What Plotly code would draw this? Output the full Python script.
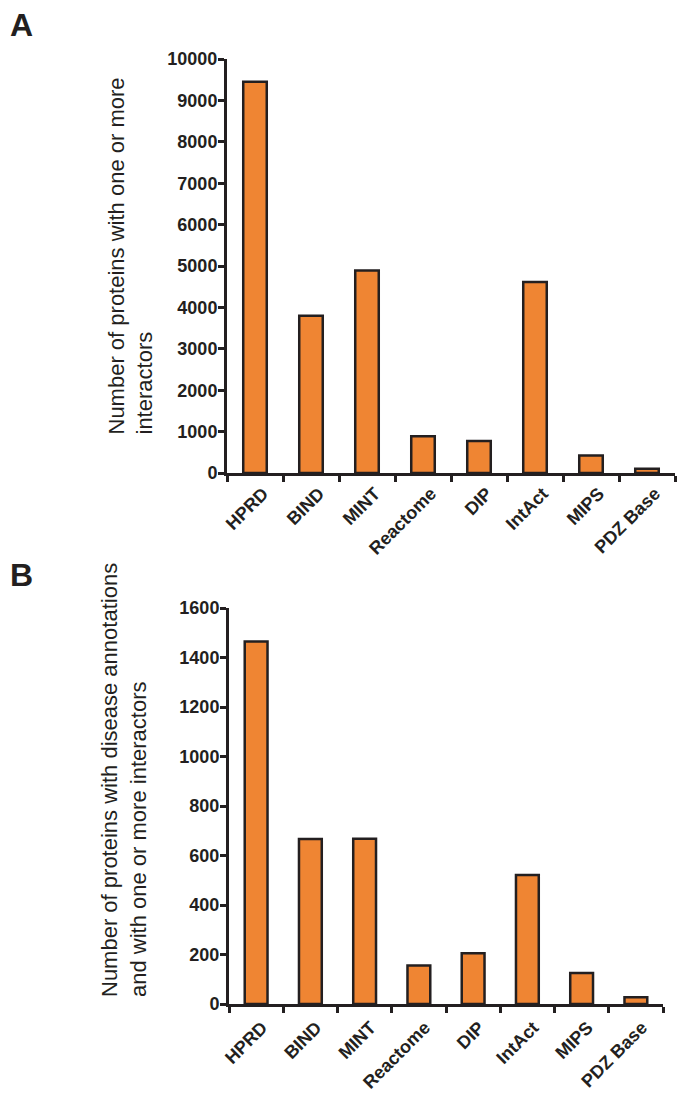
import plotly.graph_objects as go

categories = ["HPRD", "BIND", "MINT", "Reactome", "DIP", "IntAct", "MIPS", "PDZ Base"]
proteins_interactors = [9450, 3800, 4890, 890, 775, 4615, 420, 100]
proteins_disease = [1465, 667, 668, 156, 205, 521, 125, 27]

y_ticks_a = [0, 1000, 2000, 3000, 4000, 5000, 6000, 7000, 8000, 9000, 10000]
y_ticks_b = [0, 200, 400, 600, 800, 1000, 1200, 1400, 1600]

# page body has an 8px margin; figure fills the rest of the 685x1098 window
OFF = 8
W, H = 685 - OFF, 1098 - OFF
ORANGE = "#EF8533"
DARK = "#231F20"
FONT = "Liberation Sans, Arial, Helvetica, sans-serif"

fig = go.Figure()
fig.add_trace(go.Bar(x=categories, y=proteins_interactors, xaxis="x", yaxis="y",
                     marker=dict(color=ORANGE, line=dict(color=DARK, width=2.5)),
                     width=0.42, showlegend=False))
fig.add_trace(go.Bar(x=categories, y=proteins_disease, xaxis="x2", yaxis="y2",
                     marker=dict(color=ORANGE, line=dict(color=DARK, width=2.5)),
                     width=0.42, showlegend=False))

def px_x(v):
    return (v - OFF) / W

def px_y(v):
    return 1 - (v - OFF) / H

tickfont = dict(family=FONT, size=18, color=DARK, weight="bold")
common_x = dict(showline=True, linecolor=DARK, linewidth=3, ticks="outside", tickson="boundaries",
                ticklen=6, tickwidth=3, tickcolor=DARK, tickangle=-45, tickfont=tickfont,
                showgrid=False, zeroline=False, automargin=False, fixedrange=True)
common_y = dict(showline=True, linecolor=DARK, linewidth=3, ticks="outside", ticklen=6,
                tickwidth=3, tickcolor=DARK, tickfont=tickfont, showgrid=False,
                zeroline=False, automargin=False, fixedrange=True, ticklabelstandoff=-3)

fig.update_layout(
    width=W, height=H,
    margin=dict(l=0, r=0, t=0, b=0),
    paper_bgcolor="white", plot_bgcolor="white",
    xaxis=dict(domain=[px_x(227), px_x(675)], anchor="y", ticklabelshift=8, **common_x),
    yaxis=dict(domain=[px_y(473), px_y(59)], anchor="x", range=[0, 10000],
               tickvals=y_ticks_a, ticktext=[str(v) for v in y_ticks_a], **common_y),
    xaxis2=dict(domain=[px_x(229), px_x(663)], anchor="y2", ticklabelshift=6,
                ticklabelstandoff=3, **common_x),
    yaxis2=dict(domain=[px_y(1004), px_y(608)], anchor="x2", range=[0, 1600],
                tickvals=y_ticks_b, ticktext=[str(v) for v in y_ticks_b], **common_y),
    annotations=[
        dict(text="A", x=0, y=px_y(5), xref="paper", yref="paper", xanchor="left",
             yanchor="top", showarrow=False,
             font=dict(family=FONT, size=32, color=DARK, weight="bold")),
        dict(text="B", x=0, y=px_y(555), xref="paper", yref="paper", xanchor="left",
             yanchor="top", showarrow=False,
             font=dict(family=FONT, size=32, color=DARK, weight="bold")),
        dict(text="Number of proteins with one or more<br>interactors",
             x=px_x(130), y=px_y(437), xref="paper", yref="paper", xanchor="center",
             yanchor="bottom", textangle=-90, align="left", showarrow=False,
             font=dict(family=FONT, size=22, color=DARK)),
        dict(text="Number of proteins with disease annotations<br>and with one or more interactors",
             x=px_x(124), y=px_y(999), xref="paper", yref="paper", xanchor="center",
             yanchor="bottom", textangle=-90, align="left", showarrow=False,
             font=dict(family=FONT, size=22, color=DARK)),
    ],
)

fig.write_html("out.html")
